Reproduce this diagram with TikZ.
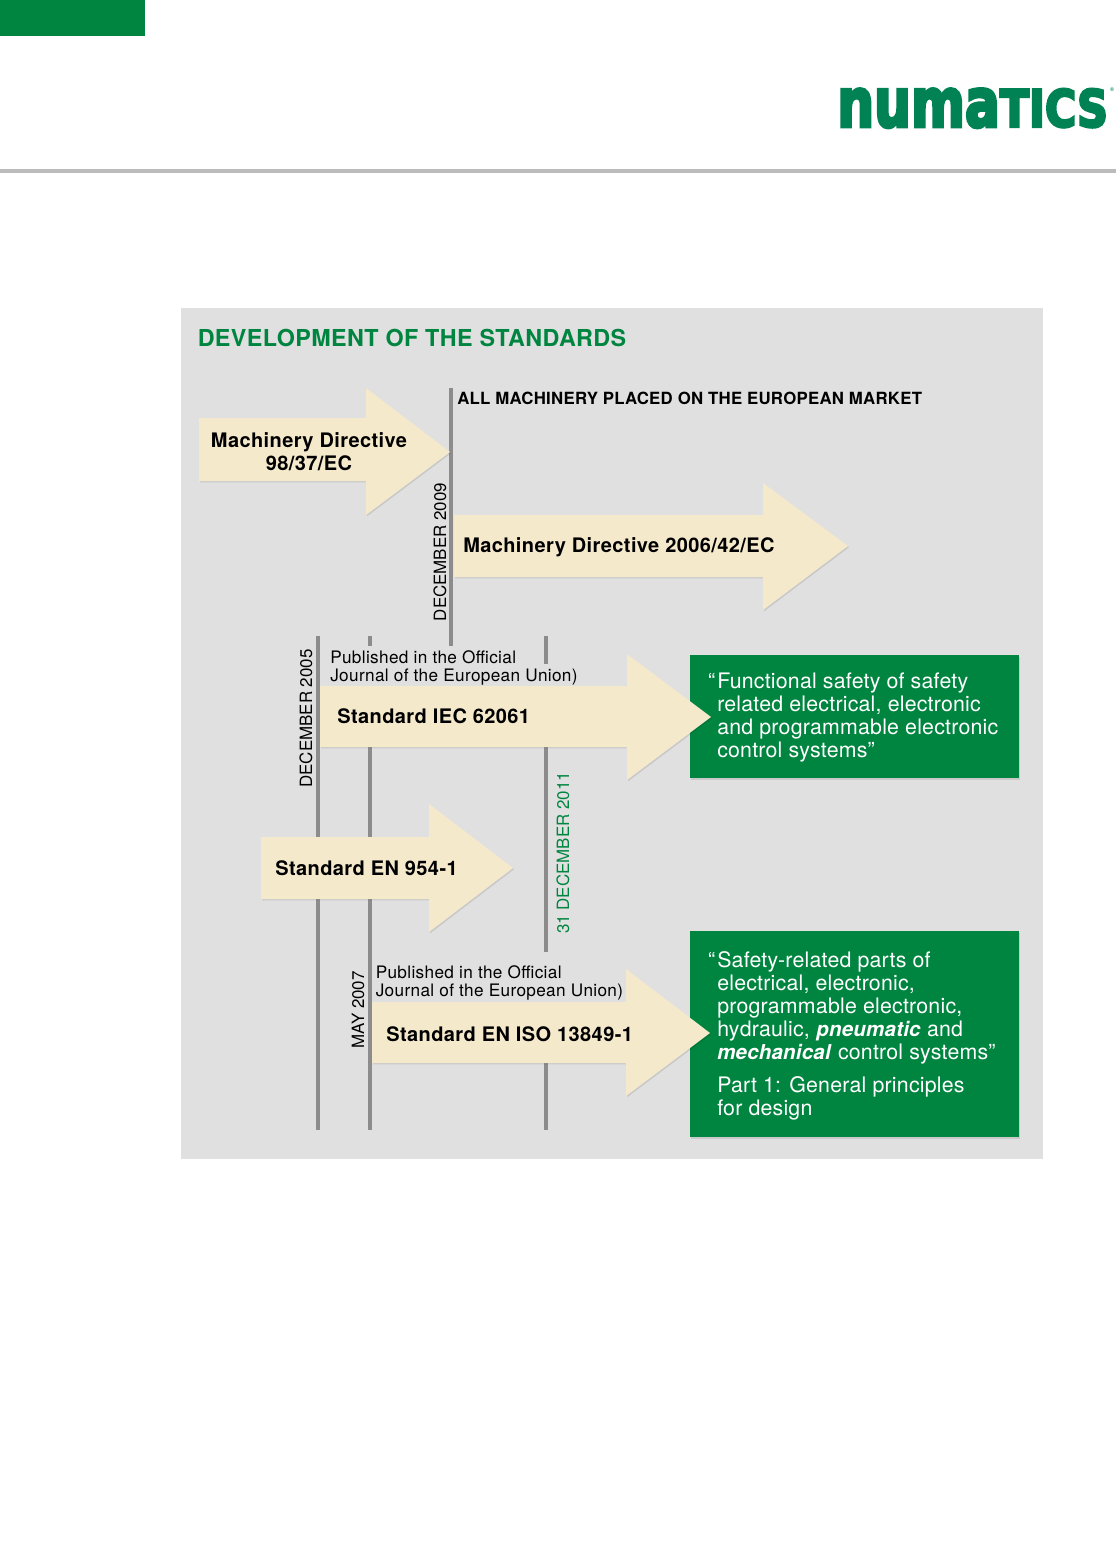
\documentclass[tikz,border=0pt]{standalone}
\usepackage{fontspec}
\setmainfont{TeX Gyre Heros}
\newfontfamily\logofont[FakeBold=5]{DejaVu Sans Bold}
\definecolor{NumGreen}{RGB}{0,133,64}
\definecolor{LogoGreen}{RGB}{0,130,84}
\definecolor{PanelGray}{RGB}{224,224,224}
\definecolor{LineGray}{RGB}{140,140,140}
\definecolor{RuleGray}{RGB}{187,187,187}
\definecolor{ArrowCream}{RGB}{245,233,204}
\usetikzlibrary{shadows, positioning}
\newcommand{\boldit}[1]{{\fontsize{15.4}{17.25}\selectfont\textbf{\textit{#1}}}}
\tikzset{
  softshadow/.style={drop shadow={shadow xshift=0.8pt, shadow yshift=-1pt, opacity=0.1, fill=black}},
  stdarrow/.style={fill=ArrowCream, softshadow},
  timeline/.style={draw=LineGray, line width=2.8pt},
  arrowlabel/.style={font=\fontsize{15}{17.25}\selectfont\bfseries\addfontfeature{LetterSpace=2}, inner sep=0pt, anchor=west, align=center},
  datelabel/.style={font=\fontsize{12.7}{14}\selectfont, rotate=90, inner sep=0pt},
  publabel/.style={font=\fontsize{12.9}{13.6}\selectfont\addfontfeature{LetterSpace=2}, inner sep=0pt, anchor=north west, align=left},
  greenbox/.style={fill=NumGreen, anchor=north west, inner sep=0pt, softshadow},
  boxtext/.style={font=\fontsize{16}{17.25}\selectfont\addfontfeature{LetterSpace=1}, text=white, inner sep=0pt, anchor=north west, align=left}
}
\begin{document}
\begin{tikzpicture}[x=0.75pt, y=-0.75pt]
  \useasboundingbox (0,0) rectangle (1116,1548);
  \fill[white] (0,0) rectangle (1116,1548);
  % page header
  \fill[NumGreen] (0,0) rectangle (145,36);
  \fill[RuleGray] (0,169) rectangle (1116,173);
  \node[inner sep=0pt, anchor=north west, text=LogoGreen] (logo) at (837,88.5)
        {\resizebox{122pt}{28.5pt}{\logofont numa}\resizebox{81pt}{28.5pt}{\logofont TICS}};
  \node[inner sep=0pt, text=LogoGreen, font=\fontsize{4}{4}\selectfont] (regmark) at (1112,90) {®};
  % panel
  \fill[PanelGray] (181,308) rectangle (1043,1159);
  \node[font=\fontsize{17.5}{20}\selectfont\bfseries\addfontfeature{LetterSpace=1.7}, text=NumGreen,
        inner sep=0pt, anchor=west] (title) at (197.5,338) {DEVELOPMENT OF THE STANDARDS};
  % date lines
  \draw[timeline] (451,388) -- (451,646);
  \draw[timeline] (318,636) -- (318,1130);
  \draw[timeline] (370,636) -- (370,646);
  \draw[timeline] (370,700) -- (370,1130);
  \draw[timeline] (546,636) -- (546,664);
  \draw[timeline] (546,700) -- (546,952);
  \draw[timeline] (546,1040) -- (546,1130);
  % green boxes
  \node[greenbox, minimum width=246.75pt, minimum height=92.25pt] (iecbox) at (690,655) {};
  \node[greenbox, minimum width=246.75pt, minimum height=154.5pt] (isobox) at (690,931) {};
  % tail / body top / body bottom / head x / head top / head bottom / tip
  \foreach \tl/\bt/\bb/\hx/\ht/\hb/\tx/\ty in {199/418/481/366/388/515/450/452,
      454/515/577/763/483/610/848/546,
      320/686/747/627/654/780/711/717,
      261/837/899/429/804/932/513/868,
      372/1002/1063/626/969/1096/710/1033}
    \path[stdarrow] (\tl,\bt) -- (\hx,\bt) -- (\hx,\ht) -- (\tx,\ty) -- (\hx,\hb) -- (\hx,\bb) -- (\tl,\bb) -- cycle;
  % arrow texts
  \node[arrowlabel, anchor=center] (md98) at (309,452) {Machinery Directive\\98/37/EC};
  \node[arrowlabel] (md06) at (463,547.5) {Machinery Directive 2006/42/EC};
  \node[arrowlabel] (iec) at (337,716) {Standard IEC 62061};
  \node[arrowlabel] (en954) at (275,868.5) {Standard EN 954-1};
  \node[arrowlabel] (iso) at (386,1034) {Standard EN ISO 13849-1};
  % dates
  \node[datelabel] (dec09) at (440,552) {DECEMBER 2009};
  \node[datelabel] (dec05) at (306,718.5) {DECEMBER 2005};
  \node[datelabel] (may07) at (358,1010) {MAY 2007};
  \node[datelabel, text=NumGreen] (dec11) at (563,853) {31 DECEMBER 2011};
  \node[font=\fontsize{12.6}{14}\selectfont\bfseries\addfontfeature{LetterSpace=1.5}, inner sep=0pt, anchor=west] (market) at (457,398)
        {ALL MACHINERY PLACED ON THE EUROPEAN MARKET};
  \node[publabel] (pub1) at (330,650) {Published in the Official\\Journal of the European Union)};
  \node[publabel] (pub2) at (375.5,965) {Published in the Official\\Journal of the European Union)};
  % box texts
  \node[boxtext] (iectext) at (717,673) {\llap{“\kern1.5pt}Functional safety of safety\\related electrical, electronic\\and programmable electronic\\control systems”};
  \node[boxtext] (isotext) at (717,951) {\llap{“\kern1.5pt}Safety-related parts of\\electrical, electronic,\\programmable electronic,\\hydraulic, \boldit{pneumatic} and\\\boldit{mechanical} control systems”};
  \node[boxtext] (isopart) at (717,1076) {Part 1: General principles\\for design};
\end{tikzpicture}
\end{document}
